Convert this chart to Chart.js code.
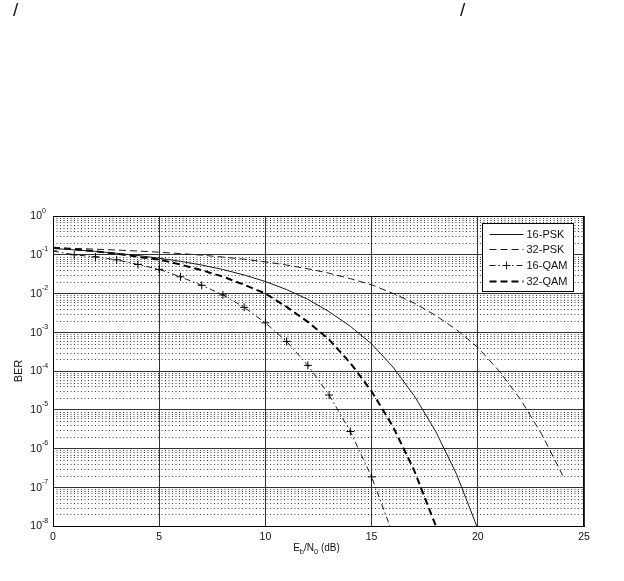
<!DOCTYPE html>
<html>
<head>
<meta charset="utf-8">
<script src="https://cdn.jsdelivr.net/npm/chart.js@4"></script>
<style>
  html, body { margin: 0; padding: 0; background: #fff; }
  #wrap { position: relative; width: 624px; height: 581px; }
  .mark { position: absolute; top: 0; font: 19px 'Liberation Sans', Arial, sans-serif; line-height: 1; color: #111; }
</style>
</head>
<body>
<div id="wrap">
  <span class="mark" style="left:13px">/</span>
  <span class="mark" style="left:460px">/</span>
  <canvas id="ber"></canvas>
</div>
<script>
// Eb/N0 axis (dB) and BER series
const ebn0 = [0, 1, 2, 3, 4, 5, 6, 7, 8, 9, 10, 11, 12, 13, 14, 15, 16, 17, 18, 19, 20, 21, 22, 23, 24];
const psk16 = [0.145, 0.134, 0.122, 0.109, 0.0955, 0.0816, 0.0677, 0.0543, 0.0416, 0.0300, 0.0204, 0.0126,
  0.00705, 0.00339, 0.00142, 5.0e-4, 1.28e-4, 2.32e-5, 2.9e-6, 2.17e-7, 8.5e-9];
const psk32 = [0.150, 0.1456, 0.1393, 0.1322, 0.1247, 0.1163, 0.1073, 0.0975, 0.0872, 0.0765, 0.0654, 0.0542,
  0.0435, 0.0334, 0.0241, 0.0168, 0.0101, 0.00568, 0.00274, 0.00116, 4.06e-4, 1.01e-4, 1.89e-5, 2.38e-6, 2.0e-7];
const qam16 = [0.125, 0.100, 0.088, 0.074, 0.056, 0.042, 0.027, 0.0163, 0.0092, 0.0044, 0.00175, 5.8e-4,
  1.4e-4, 2.4e-5, 2.74e-6, 1.85e-7, 6.2e-9];
const qam32 = [0.152, 0.138, 0.123, 0.106, 0.0885, 0.075, 0.0560, 0.0400, 0.0272, 0.0168, 0.0100, 0.00450,
  0.00185, 6.45e-4, 1.61e-4, 2.99e-5, 3.72e-6, 2.77e-7, 1.08e-8, 1.9e-10];

const seriesNames = ['16-PSK', '32-PSK', '16-QAM', '32-QAM'];
const yTicks = [1e-8, 1e-7, 1e-6, 1e-5, 1e-4, 1e-3, 1e-2, 1e-1, 1];
const xTicks = [0, 5, 10, 15, 20, 25];

const FONT = "'Liberation Sans', Arial, sans-serif";
const INK = '#1a1a1a';

function pts(ys) {
  return ys.map((y, i) => ({ x: ebn0[i], y }));
}

// dotted minor grid (2..9 x decade), box border, 10^n labels, x title
const matlabAxes = {
  id: 'matlabAxes',
  beforeDatasetsDraw(chart) {
    const { ctx, chartArea: a, scales: { y } } = chart;
    ctx.save();
    ctx.strokeStyle = '#444';
    ctx.lineWidth = 1;
    ctx.setLineDash([1, 2.5]);
    for (let d = -8; d < 0; d++) {
      for (let m = 2; m <= 9; m++) {
        const py = Math.round(y.getPixelForValue(m * Math.pow(10, d))) + 0.5;
        ctx.beginPath();
        ctx.moveTo(a.left, py);
        ctx.lineTo(a.right, py);
        ctx.stroke();
      }
    }
    ctx.restore();
  },
  afterDraw(chart) {
    const { ctx, chartArea: a, scales: { x, y } } = chart;
    ctx.save();
    ctx.strokeStyle = '#000';
    ctx.lineWidth = 1;
    ctx.strokeRect(Math.round(a.left) + 0.5, Math.round(a.top) + 0.5,
      Math.round(a.right - a.left) - 1, Math.round(a.bottom - a.top));

    ctx.fillStyle = '#111';
    yTicks.forEach(v => {
      const py = y.getPixelForValue(v);
      const exp = String(Math.round(Math.log10(v)));
      ctx.font = `10.5px ${FONT}`;
      ctx.textAlign = 'right';
      ctx.textBaseline = 'middle';
      ctx.fillText('10', a.left - 11, py + 0.5);
      ctx.font = `7px ${FONT}`;
      ctx.textAlign = 'left';
      ctx.textBaseline = 'alphabetic';
      ctx.fillText(exp, a.left - 11, py - 3.5);
    });

    // E_b/N_0 (dB)
    const parts = [['E', 10, 0], ['b', 7.5, 3], ['/N', 10, 0], ['0', 7.5, 3], [' (dB)', 10, 0]];
    let w = 0;
    parts.forEach(([t, s]) => { ctx.font = `${s}px ${FONT}`; w += ctx.measureText(t).width; });
    let px = (a.left + a.right) / 2 - w / 2 - 2;
    const base = a.bottom + 25;
    ctx.textAlign = 'left';
    ctx.textBaseline = 'alphabetic';
    parts.forEach(([t, s, dy]) => {
      ctx.font = `${s}px ${FONT}`;
      ctx.fillText(t, px, base + dy);
      px += ctx.measureText(t).width;
    });
    ctx.restore();
  }
};

// legend box inside the upper right corner of the axes
const insideLegend = {
  id: 'insideLegend',
  afterDraw(chart) {
    const { ctx, chartArea: a } = chart;
    const bw = 91, bh = 68;
    const bx = Math.round(a.right - 11 - bw) + 0.5;
    const by = Math.round(a.top + 7) + 0.5;
    ctx.save();
    ctx.fillStyle = '#fff';
    ctx.fillRect(bx, by, bw, bh);
    ctx.strokeStyle = '#000';
    ctx.lineWidth = 1;
    ctx.strokeRect(bx, by, bw, bh);
    chart.data.datasets.forEach((ds, i) => {
      const ry = Math.round(by + 10 + i * 15.8) + 0.5;
      ctx.strokeStyle = ds.borderColor;
      ctx.lineWidth = ds.borderWidth;
      ctx.setLineDash(ds.borderDash || []);
      ctx.beginPath();
      ctx.moveTo(bx + 7, ry);
      ctx.lineTo(bx + 41, ry);
      ctx.stroke();
      ctx.setLineDash([]);
      if (ds.pointStyle === 'cross') {
        const cx = bx + 24;
        ctx.lineWidth = 1;
        ctx.beginPath();
        ctx.moveTo(cx - 4, ry); ctx.lineTo(cx + 4, ry);
        ctx.moveTo(cx, ry - 4); ctx.lineTo(cx, ry + 4);
        ctx.stroke();
      }
      ctx.fillStyle = '#111';
      ctx.font = `11px ${FONT}`;
      ctx.textAlign = 'left';
      ctx.textBaseline = 'middle';
      ctx.fillText(ds.label, bx + 44, ry + 0.5);
    });
    ctx.restore();
  }
};

new Chart(document.getElementById('ber'), {
  type: 'line',
  data: {
    datasets: [
      {
        label: seriesNames[0],
        data: pts(psk16),
        borderColor: INK,
        borderWidth: 1,
        pointRadius: 0,
      },
      {
        label: seriesNames[1],
        data: pts(psk32),
        borderColor: INK,
        borderWidth: 1,
        borderDash: [7, 4],
        pointRadius: 0,
      },
      {
        label: seriesNames[2],
        data: pts(qam16),
        borderColor: INK,
        borderWidth: 1,
        borderDash: [6, 3, 1.5, 3],
        pointStyle: 'cross',
        pointRadius: 4,
        pointBorderWidth: 1,
        pointBorderColor: '#000',
      },
      {
        label: seriesNames[3],
        data: pts(qam32),
        borderColor: '#000',
        borderWidth: 2,
        borderDash: [7, 4],
        pointRadius: 0,
      }
    ]
  },
  options: {
    responsive: true,
    maintainAspectRatio: false,
    animation: false,
    layout: { padding: { top: 216, right: 40, left: 0, bottom: 25 } },
    plugins: {
      legend: { display: false },
      tooltip: { enabled: false },
    },
    scales: {
      x: {
        type: 'linear',
        min: 0,
        max: 25,
        afterBuildTicks: s => { s.ticks = xTicks.map(v => ({ value: v })); },
        afterFit: s => { s.height = 30; },
        grid: { color: '#333', lineWidth: 1, drawTicks: false },
        border: { color: '#000' },
        ticks: { color: '#111', font: { family: FONT, size: 10.5 }, padding: 5, maxRotation: 0 },
      },
      y: {
        type: 'logarithmic',
        min: 1e-8,
        max: 1,
        afterBuildTicks: s => { s.ticks = yTicks.map(v => ({ value: v })); },
        afterFit: s => { s.width = 53; },
        grid: { color: '#333', lineWidth: 1, drawTicks: false },
        border: { color: '#000' },
        ticks: { display: false },
        title: {
          display: true,
          text: 'BER',
          color: '#111',
          font: { family: FONT, size: 11 },
          padding: { top: 12, bottom: 0 },
        },
      }
    }
  },
  plugins: [matlabAxes, insideLegend]
});
</script>
</body>
</html>
